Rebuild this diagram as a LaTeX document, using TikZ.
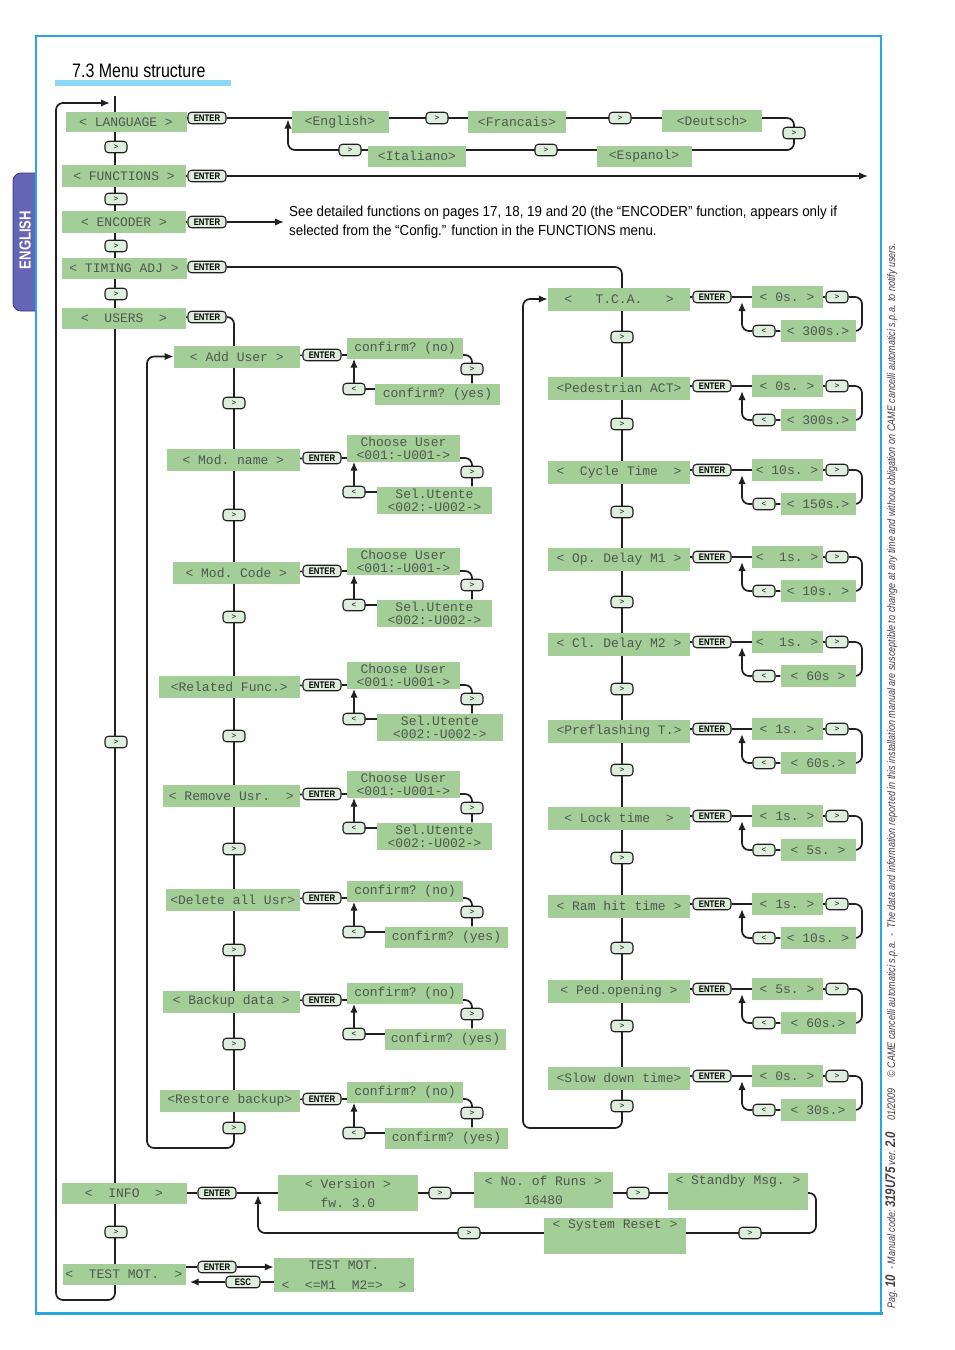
\documentclass[tikz,border=0pt]{standalone}
\usepackage{fontspec}
\setmainfont{Liberation Sans}
\newfontfamily\lcdfont{Liberation Mono}
\newfontfamily\condfont{Liberation Sans}[FakeStretch=0.82]
\newfontfamily\notefont{Liberation Sans}[FakeStretch=0.92]
\usetikzlibrary{arrows.meta, positioning, backgrounds, calc}
\definecolor{lcdgreen}{HTML}{A3CE98}
\definecolor{lcdtext}{HTML}{4E574E}
\definecolor{btnfill}{HTML}{DDEEDD}
\definecolor{wirecol}{HTML}{231F20}
\definecolor{pageblue}{HTML}{2AA6DE}
\definecolor{titlebar}{HTML}{8CD6F6}
\definecolor{tabfill}{HTML}{6565B5}
\definecolor{tabedge}{HTML}{34348F}
\tikzset{
  lcd/.style      = {fill=lcdgreen, text=lcdtext, inner sep=0pt, minimum height=21pt,
                     font=\lcdfont\fontsize{13}{13}\selectfont, align=center},
  btn/.style      = {draw=wirecol, fill=btnfill, rounded corners=3.5pt, line width=1.1pt,
                     minimum width=22pt, minimum height=11.5pt, inner sep=0pt,
                     font=\fontsize{8}{8}\selectfont},
  enterbtn/.style = {btn, minimum width=38pt,
                     font=\condfont\bfseries\fontsize{9.5}{9.5}\selectfont},
  wire/.style     = {draw=wirecol, line width=1.7pt, rounded corners=7pt},
  flow/.style     = {wire, -{Latex[length=9pt, width=7.5pt]}},
  boldflow/.style = {flow, line width=2.4pt},
}
\begin{document}
\begin{tikzpicture}[x=1pt, y=-1pt]
  \useasboundingbox (0,0) rectangle (954,1350);
  \draw[draw=tabedge, fill=tabfill, line width=0.8pt, rounded corners=8pt]
    (36,173) -- (13,173) -- (13,311) -- (36,311);
  \node[rotate=90, text=white, font=\condfont\bfseries\fontsize{16}{16}\selectfont]
    (tablabel) at (25,240) {ENGLISH};
  \draw[pageblue, line width=1.2pt] (36,1313) -- (36,36) -- (881,36) -- (881,1313);
  \draw[pageblue, line width=3pt] (35,1313) -- (882.5,1313);
  \node[anchor=base west, inner sep=0pt, font=\condfont\fontsize{19.5}{19.5}\selectfont]
    (title) at (72,77) {7.3 Menu structure};
  \fill[titlebar] (55,80) rectangle (231,86);

  \node[lcd, minimum width=121pt, minimum height=20pt] (language) at (126,122) {<~LANGUAGE~>};
  \node[lcd, minimum width=124pt, minimum height=22pt] (functions) at (124,176) {<~FUNCTIONS~>};
  \node[lcd, minimum width=124pt, minimum height=22pt] (encoder) at (124,222) {<~ENCODER~>};
  \node[lcd, minimum width=125pt] (timing) at (124,268) {<~TIMING~ADJ~>};
  \node[lcd, minimum width=124pt] (users) at (124,318) {<~~USERS~~>};
  \node[lcd, minimum width=125pt] (info) at (124,1193) {<~~INFO~~>};
  \node[lcd, minimum width=123pt] (testmot) at (124,1274) {<~~TEST~MOT.~~>};
  \foreach \y [count=\i] in {147,199,246,294,742,1232}
    \node[btn] (mainstep\i) at (116,\y) {>};

  \node[enterbtn] (langenter) at (207,118) {ENTER};
  \node[enterbtn] (funcenter) at (207,176) {ENTER};
  \node[enterbtn] (encenter) at (207,222) {ENTER};
  \node[enterbtn] (timingenter) at (207,267) {ENTER};
  \node[enterbtn] (usersenter) at (207,317) {ENTER};
  \node[enterbtn] (infoenter) at (217,1193) {ENTER};
  \node[enterbtn] (testenter) at (217,1267) {ENTER};
  \node[enterbtn, minimum width=34pt] (escbtn) at (243,1282) {ESC};

  \node[lcd, minimum width=97pt, minimum height=22pt] (english) at (340,122) {<English>};
  \node[lcd, minimum width=98pt, minimum height=22pt] (francais) at (517,122) {<Francais>};
  \node[lcd, minimum width=100pt, minimum height=22pt] (deutsch) at (712,121) {<Deutsch>};
  \node[lcd, minimum width=98pt] (italiano) at (417,156) {<Italiano>};
  \node[lcd, minimum width=95pt] (espanol) at (644,156) {<Espanol>};
  \node[btn] (langstep1) at (437,118) {>};
  \node[btn] (langstep2) at (620,118) {>};
  \node[btn] (langstep3) at (794,133) {>};
  \node[btn] (langstep4) at (546,150) {>};
  \node[btn] (langstep5) at (350,150) {>};

  \node[anchor=west, inner sep=0pt, align=left, font=\notefont\fontsize{14.5}{19}\selectfont]
    (encnote) at (289,222) {See detailed functions on pages 17, 18, 19 and 20 (the “ENCODER” function, appears only if\\selected from the “Config.” function in the FUNCTIONS menu.};

  \foreach \uname/\ulabel/\ye/\uw/\yesx/\yesw in {
      adduser/{<~Add~User~>}/355/126/437.5/125,
      deleteall/{<Delete~all~Usr>}/898/134/446.5/123,
      backup/{<~Backup~data~>}/1000/137/445.5/121,
      restore/{<Restore~backup>}/1099/140/446.5/123}
  {
    \node[lcd, anchor=east, minimum width=\uw pt, minimum height=22pt] (\uname) at (300,\ye+1.5) {\ulabel};
    \node[enterbtn] (\uname enter) at (322,\ye) {ENTER};
    \node[lcd, minimum width=116pt] (\uname no) at (405,\ye-7) {confirm?~(no)};
    \node[btn] (\uname next) at (472,\ye+14) {>};
    \node[lcd, minimum width=\yesw pt] (\uname yes) at (\yesx,\ye+39) {confirm?~(yes)};
    \node[btn] (\uname back) at (354,\ye+34) {<};
    \begin{scope}[on background layer]
      \draw[wire] (\uname) -- (\uname enter) -- (\uname next |- \uname enter) -- (\uname yes.north -| \uname next);
      \draw[flow] (\uname yes.west |- \uname back) -- (\uname back.center) -- (\uname no.south -| \uname back);
    \end{scope}
  }
  \foreach \uname/\ulabel/\ye/\uw/\selx/\selw in {
      modname/{<~Mod.~name~>}/458/133/434.5/115,
      modcode/{<~Mod.~Code~>}/571/127/434.5/115,
      related/{<Related~Func.>}/685/141/440/126,
      remove/{<~Remove~Usr.~~>}/794/137/434.5/115}
  {
    \node[lcd, anchor=east, minimum width=\uw pt, minimum height=22pt] (\uname) at (300,\ye+2) {\ulabel};
    \node[enterbtn] (\uname enter) at (322,\ye) {ENTER};
    \node[lcd, minimum width=113pt, minimum height=27pt] (\uname choose) at (403.5,\ye-10) {Choose~User\\<001:-U001->};
    \node[btn] (\uname next) at (472,\ye+14) {>};
    \node[lcd, minimum width=\selw pt, minimum height=27pt] (\uname sel) at (\selx,\ye+42) {Sel.Utente\\<002:-U002->};
    \node[btn] (\uname back) at (354,\ye+34) {<};
    \begin{scope}[on background layer]
      \draw[wire] (\uname) -- (\uname enter) -- (\uname next |- \uname enter) -- (\uname sel.north -| \uname next);
      \draw[flow] (\uname sel.west |- \uname back) -- (\uname back.center) -- (\uname choose.south -| \uname back);
    \end{scope}
  }
  \foreach \y [count=\i] in {403,515,617,736,849,950,1044,1128}
    \node[btn] (userstep\i) at (234,\y) {>};

  \foreach \alabel/\ye/\vlow/\vhigh [count=\i] in {
      {<~~~T.C.A.~~~>}/297/{<~0s.~>}/{<~300s.>},
      {<Pedestrian~ACT>}/386/{<~0s.~>}/{<~300s.>},
      {<~~Cycle~Time~~>}/470/{<~10s.~>}/{<~150s.>},
      {<~Op.~Delay~M1~>}/557/{<~~1s.~>}/{<~10s.~>},
      {<~Cl.~Delay~M2~>}/642/{<~~1s.~>}/{<~60s~>},
      {<Preflashing~T.>}/729/{<~1s.~>}/{<~60s.>},
      {<~Lock~time~~>}/816/{<~1s.~>}/{<~5s.~>},
      {<~Ram~hit~time~>}/904/{<~1s.~>}/{<~10s.~>},
      {<~Ped.opening~>}/989/{<~5s.~>}/{<~60s.>},
      {<Slow~down~time>}/1076/{<~0s.~>}/{<~30s.>}}
  {
    \node[lcd, minimum width=142pt, minimum height=23pt] (adj\i) at (619,\ye+2) {\alabel};
    \node[enterbtn] (adjenter\i) at (712,\ye) {ENTER};
    \node[lcd, minimum width=71pt, minimum height=22pt] (adjlow\i) at (787,\ye) {\vlow};
    \node[btn] (adjnext\i) at (837,\ye) {>};
    \node[lcd, minimum width=75pt, minimum height=22pt] (adjhigh\i) at (818,\ye+34) {\vhigh};
    \node[btn] (adjback\i) at (764,\ye+34) {<};
    \begin{scope}[on background layer]
      \draw[wire] (adj\i.east |- adjenter\i) -- (adjenter\i) -- (adjnext\i) -- (862,\ye) -- (862,\ye+34) -- (adjhigh\i.east);
      \draw[flow] (adjhigh\i) -- (adjback\i) -- (742,\ye+34) -- (742,\ye+5);
    \end{scope}
  }
  \foreach \y [count=\i] in {337,424,512,602,689,770,858,948,1026,1106}
    \node[btn] (adjstep\i) at (622,\y) {>};

  \node[lcd, minimum width=140pt, minimum height=36pt] (version) at (348,1193) {<~Version~>\\[6pt]fw.~3.0};
  \node[lcd, minimum width=139pt, minimum height=36pt] (runs) at (543.5,1190) {<~No.~of~Runs~>\\[6pt]16480};
  \node[lcd, minimum width=140pt, minimum height=37pt] (standby) at (738,1191.5) {<~Standby~Msg.~>\\[6pt]\strut};
  \node[lcd, minimum width=142pt, minimum height=36pt] (sysreset) at (615,1236) {<~System~Reset~>\\[6pt]\strut};
  \node[btn] (infostep1) at (440,1193) {>};
  \node[btn] (infostep2) at (638,1193) {>};
  \node[btn] (infostep3) at (750,1233) {>};
  \node[btn] (infostep4) at (469,1233) {>};
  \node[lcd, minimum width=140pt, minimum height=34pt] (testbox) at (344,1275) {TEST~MOT.\\[7pt]<~~<=M1~~M2=>~~>};

  \node[rotate=90, anchor=base west, inner sep=0pt, text=black!75,
        font=\condfont\itshape\fontsize{11}{11}\selectfont] (footer) at (895,1309)
    {Pag.~{\bfseries\fontsize{14}{14}\selectfont 10}~~-~Manual code:~{\bfseries\fontsize{14}{14}\selectfont 319U75}~ver.~{\bfseries\fontsize{14}{14}\selectfont 2.0}\quad 01/2009\quad ©~CAME cancelli automatici s.p.a.~~-~~The data and information reported in this installation manual are susceptible to change at any time and without obligation on CAME cancelli automatici s.p.a. to notify users.};

  \begin{scope}[on background layer]
    \coordinate (trunktop) at (115,96);
    \coordinate (trunkbot) at (115,1300);
    \coordinate (loopbot) at (56,1300);
    \coordinate (looptop) at (56,103);
    \coordinate (loopend) at (110,103);
    \draw[flow] (trunktop) -- (trunkbot) -- (loopbot) -- (looptop) -- (loopend);
    \draw[wire] (language.east |- langenter) -- (langenter);
    \draw[wire] (functions) -- (funcenter);
    \draw[wire] (encoder) -- (encenter);
    \draw[wire] (timing) -- (timingenter);
    \draw[wire] (users) -- (usersenter);
    \coordinate (langright) at (794,118);
    \coordinate (langleft) at (288,150);
    \draw[flow, shorten >=1.5pt] (langenter) -- (langright) -- (langright |- langleft) -- (langleft) -- (langleft |- langenter);
    \coordinate (funcend) at (868,176);
    \draw[flow] (funcenter) -- (funcend);
    \draw[flow, shorten >=5pt] (encenter) -- (encnote.west |- encenter);
    \coordinate (adjcorner) at (622,267);
    \coordinate (adjbottom) at (622,1128);
    \coordinate (adjleft) at (523,1128);
    \draw[flow] (timingenter) -- (adjcorner) -- (adjbottom) -- (adjleft) -- (adjleft |- adj1) -- (adj1.west);
    \coordinate (usercorner) at (234,317);
    \coordinate (userbottom) at (234,1148);
    \coordinate (userleft) at (147,1148);
    \draw[flow] (usersenter) -- (usercorner) -- (userbottom) -- (userleft) -- (userleft |- adduser) -- (adduser.west);
    \coordinate (infocorner) at (816,1193);
    \coordinate (infoturn) at (258,1233);
    \draw[wire] (info) -- (infoenter);
    \draw[flow, shorten >=2pt] (infoenter) -- (infocorner) -- (infocorner |- infoturn) -- (infoturn) -- (infoturn |- infoenter);
    \draw[wire] (testmot.east |- testenter) -- (testenter);
    \draw[boldflow] (testenter) -- (testbox.west |- testenter);
    \draw[boldflow, shorten >=4pt] (testbox.west |- escbtn) -- (escbtn) -- (testmot.east |- escbtn);
  \end{scope}
\end{tikzpicture}
\end{document}
